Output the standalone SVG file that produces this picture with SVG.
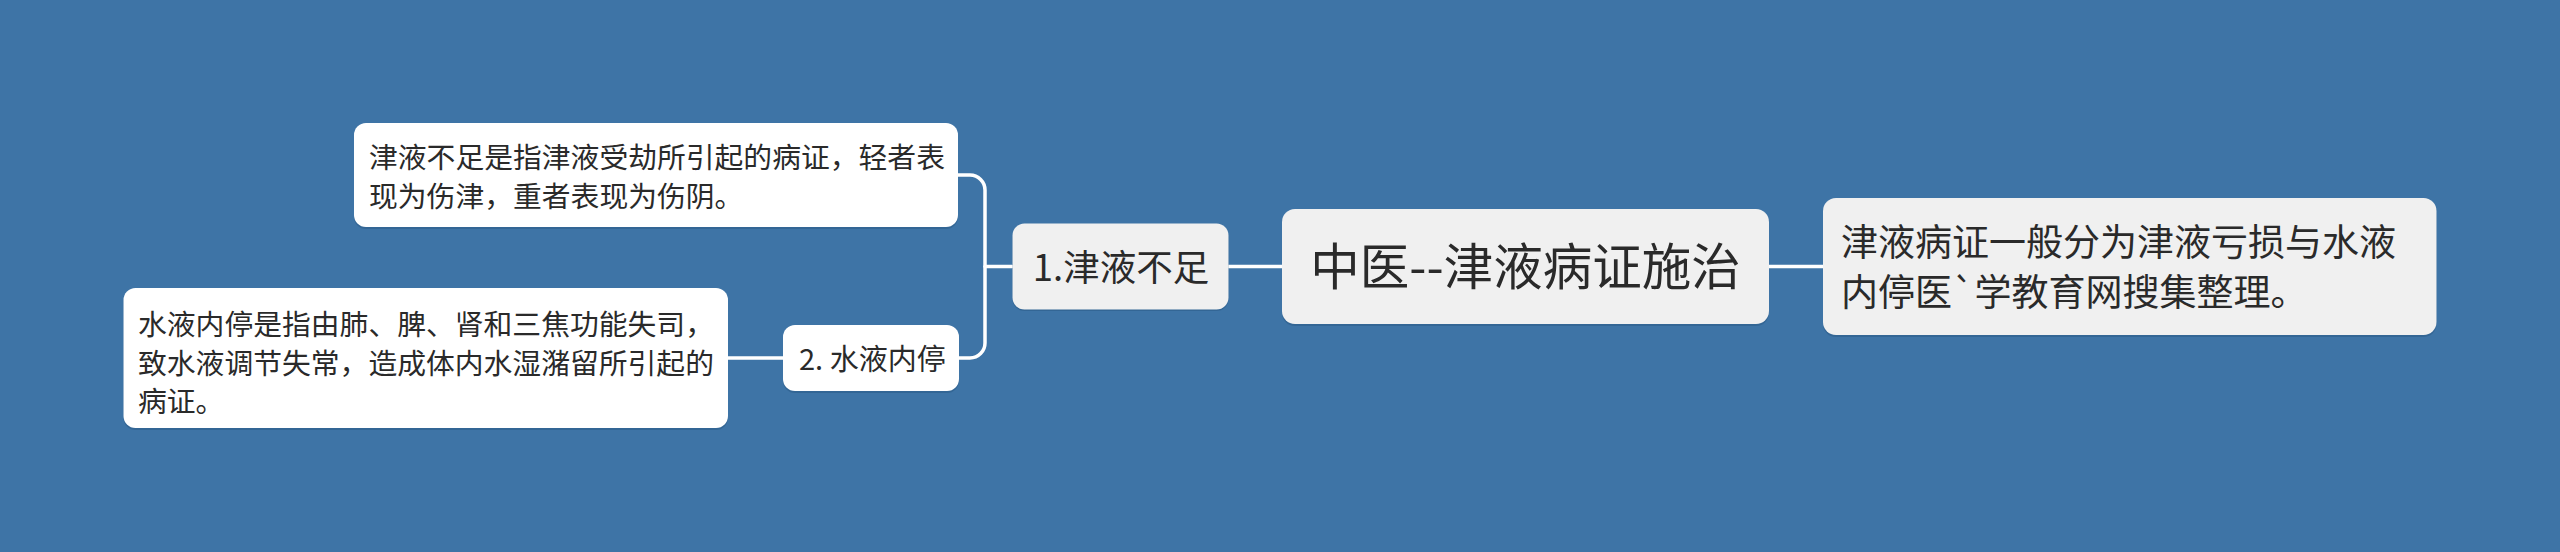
<svg xmlns="http://www.w3.org/2000/svg" width="2560" height="552" viewBox="0 0 2560 552">
<style>
.bg{fill:#3e74a6}
.shadow{fill:#2d5d8a;opacity:0.6}
.gray{fill:#f0f0f0}
.white{fill:#ffffff}
.t{font-family:"Noto Sans CJK SC","Noto Sans",sans-serif;fill:#2a2a2a}
.conn{fill:none;stroke:#ffffff;stroke-width:3.5;stroke-linecap:round;stroke-linejoin:round}
</style>
<rect class="bg" x="0" y="0" width="2560" height="552"/>
<g id="connectors">
<path class="conn" d="M1228 266.5 H1282"/>
<path class="conn" d="M1769 266.5 H1823"/>
<path class="conn" d="M1012 266.5 H985"/>
<path class="conn" d="M958 175 H970 A15 15 0 0 1 985 190 V343 A15 15 0 0 1 970 358 H959"/>
<path class="conn" d="M783 358 H728"/>
</g>
<g id="root">
<rect class="shadow" x="1282" y="211" width="487" height="115" rx="13"/>
<rect class="gray" x="1282" y="209" width="487" height="115" rx="13"/>
<text class="t" x="1525.5" y="284.5" font-size="49.5" text-anchor="middle">中医--津液病证施治</text>
</g>
<g id="summary">
<rect class="shadow" x="1823" y="200" width="613.5" height="137" rx="13"/>
<rect class="gray" x="1823" y="198" width="613.5" height="137" rx="13"/>
<text class="t" font-size="37"><tspan x="1841" y="255.5">津液病证一般分为津液亏损与水液</tspan><tspan x="1841" y="305.5">内停医`学教育网搜集整理。</tspan></text>
</g>
<g id="n1">
<rect class="shadow" x="1012.5" y="225" width="216" height="86" rx="12"/>
<rect class="gray" x="1012.5" y="223.5" width="216" height="86" rx="12"/>
<text class="t" x="1121" y="280.5" font-size="36.5" text-anchor="middle">1.津液不足</text>
</g>
<g id="n1-detail">
<rect class="shadow" x="354" y="125" width="604" height="104" rx="12"/>
<rect class="white" x="354" y="123" width="604" height="104" rx="12"/>
<text class="t" font-size="28.8"><tspan x="369" y="167.5">津液不足是指津液受劫所引起的病证，轻者表</tspan><tspan x="369" y="206.5">现为伤津，重者表现为伤阴。</tspan></text>
</g>
<g id="n2">
<rect class="shadow" x="783" y="327" width="176" height="66" rx="12"/>
<rect class="white" x="783" y="325" width="176" height="66" rx="12"/>
<text class="t" x="799" y="370" font-size="29">2. 水液内停</text>
</g>
<g id="n2-detail">
<rect class="shadow" x="123.5" y="290" width="604.5" height="140" rx="12"/>
<rect class="white" x="123.5" y="288" width="604.5" height="140" rx="12"/>
<text class="t" font-size="28.8"><tspan x="138" y="335">水液内停是指由肺、脾、肾和三焦功能失司，</tspan><tspan x="138" y="373.5">致水液调节失常，造成体内水湿潴留所引起的</tspan><tspan x="138" y="412">病证。</tspan></text>
</g>
</svg>
